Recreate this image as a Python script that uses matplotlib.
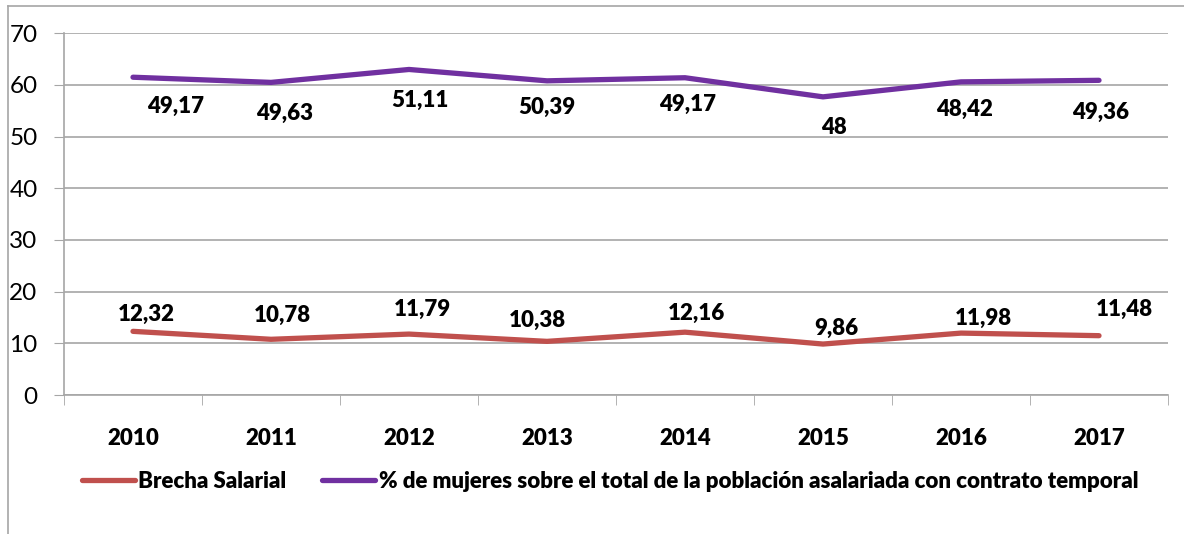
import matplotlib.pyplot as plt
from matplotlib.lines import Line2D

years = ["2010", "2011", "2012", "2013", "2014", "2015", "2016", "2017"]
brecha = [12.32, 10.78, 11.79, 10.38, 12.16, 9.86, 11.98, 11.48]
# purple line as drawn in the picture (labels show different figures)
mujeres_line = [61.5, 60.5, 63.0, 60.8, 61.4, 57.7, 60.6, 60.9]
mujeres_labels = ["49,17", "49,63", "51,11", "50,39", "49,17", "48", "48,42", "49,36"]
brecha_labels = ["12,32", "10,78", "11,79", "10,38", "12,16", "9,86", "11,98", "11,48"]

RED = "#C0504D"
PURPLE = "#7030A0"
GRID = "#A6A6A6"

# label offsets in pixels, as placed in the original chart
red_off = [(13, 17), (11, 24), (13, 25), (-10, 21), (11, 19), (13, 16), (22, 15), (25, 26)]
pur_off = [(43, -29), (14, -31), (11, -31), (0, -27), (3, -27), (11, -31), (3, -28), (2, -32)]


def main():
    plt.rcParams["font.family"] = ["Lato", "DejaVu Sans"]
    fig = plt.figure(figsize=(11.84, 5.34), dpi=100)
    ax = fig.add_axes([64 / 1184, 1 - 395 / 534, (1168 - 64) / 1184, (395 - 33.3) / 534])

    x = list(range(len(years)))
    ax.plot(x, brecha, color=RED, lw=3.8, solid_capstyle="round", label="Brecha Salarial")
    ax.plot(x, mujeres_line, color=PURPLE, lw=3.8, solid_capstyle="round",
            label="% de mujeres sobre el total de la población asalariada con contrato temporal")

    for i, txt in enumerate(brecha_labels):
        ax.annotate(txt, (x[i], brecha[i]), xytext=red_off[i], textcoords="offset pixels",
                    ha="center", va="center", fontsize=16, fontweight="heavy")
    for i, txt in enumerate(mujeres_labels):
        ax.annotate(txt, (x[i], mujeres_line[i]), xytext=pur_off[i], textcoords="offset pixels",
                    ha="center", va="center", fontsize=16, fontweight="heavy")

    ax.set_xlim(-0.5, len(years) - 0.5)
    ax.set_ylim(0, 70)
    ax.set_yticks(range(0, 71, 10))
    ax.set_xticks(x)
    ax.set_xticklabels(years, fontsize=16, fontweight="heavy")
    ax.set_xticks([i - 0.5 for i in range(len(years) + 1)], minor=True)
    ax.tick_params(axis="x", which="major", length=0, pad=24)
    ax.tick_params(axis="x", which="minor", length=7, color=GRID, direction="out")
    ax.tick_params(axis="y", length=7, color=GRID, labelsize=17.5, pad=12)
    ax.grid(True, axis="y", color=GRID, lw=1.2)
    ax.set_axisbelow(True)
    for side in ["top", "right"]:
        ax.spines[side].set_visible(False)
    for side in ["left", "bottom"]:
        ax.spines[side].set_color(GRID)
        ax.spines[side].set_linewidth(1.2)

    fig.legend(loc="center", bbox_to_anchor=(610 / 1184, 1 - 481 / 534), ncol=2,
               frameon=False, prop={"size": 16, "weight": "heavy"},
               handlelength=2.4, handletextpad=0.15, columnspacing=1.6)

    # outer chart frame (left and top edges visible)
    fig.add_artist(Line2D([8 / 1184, 8 / 1184], [0, 1 - 6 / 534], color=GRID, lw=1.2))
    fig.add_artist(Line2D([8 / 1184, 1], [1 - 6 / 534, 1 - 6 / 534], color=GRID, lw=1.2))

    fig.savefig("out.png", dpi=100)


if __name__ == "__main__":
    main()
